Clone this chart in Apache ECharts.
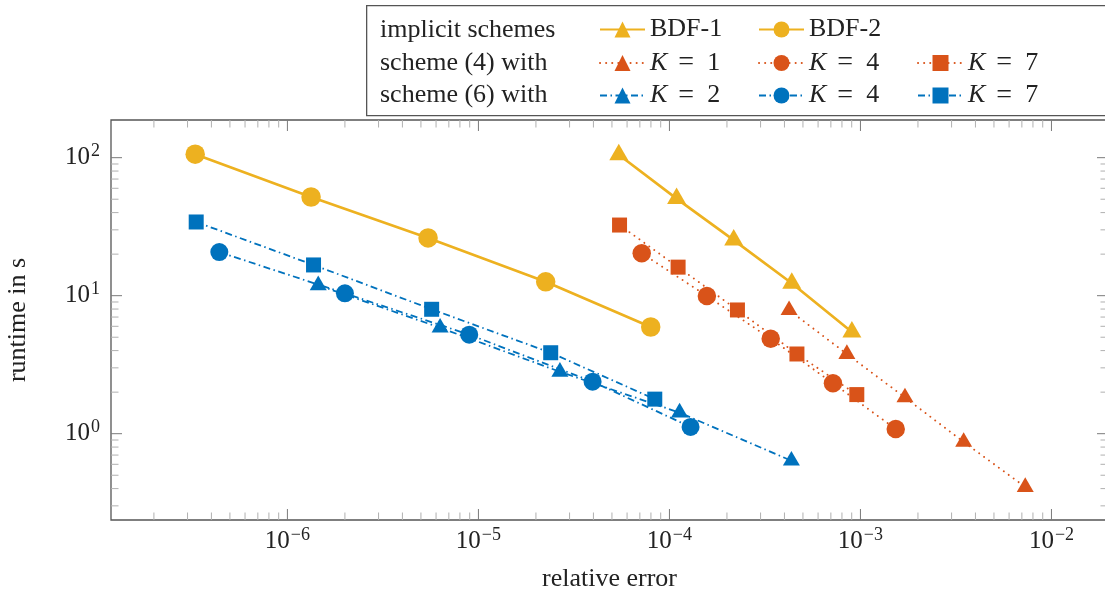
<!DOCTYPE html>
<html>
<head>
<meta charset="utf-8">
<script src="https://cdn.jsdelivr.net/npm/echarts@6/dist/echarts.min.js"></script>
<style>
html,body{margin:0;padding:0;background:#fff;}
#chart{width:1105px;height:593px;}
</style>
</head>
<body>
<div id="chart"></div>
<script>
// ---- data ----
const xBDF1 = [5.43e-5, 1.09e-4, 2.17e-4, 4.37e-4, 9.02e-4];
const yBDF1 = [105, 50.5, 25.3, 12.3, 5.46];
const xBDF2 = [3.29e-7, 1.33e-6, 5.45e-6, 2.25e-5, 7.98e-5];
const yBDF2 = [106, 51.9, 26.2, 12.6, 5.93];
const xS4K1 = [4.23e-4, 8.49e-4, 1.71e-3, 3.47e-3, 7.29e-3];
const yS4K1 = [7.85, 3.78, 1.83, 0.871, 0.411];
const xS4K4 = [7.16e-5, 1.57e-4, 3.39e-4, 7.18e-4, 1.53e-3];
const yS4K4 = [20.3, 9.95, 4.88, 2.32, 1.08];
const xS4K7 = [5.48e-5, 1.11e-4, 2.27e-4, 4.65e-4, 9.57e-4];
const yS4K7 = [32.5, 16.1, 7.88, 3.78, 1.92];
const xS6K2 = [1.45e-6, 6.30e-6, 2.67e-5, 1.13e-4, 4.35e-4];
const yS6K2 = [11.9, 5.86, 2.81, 1.42, 0.637];
const xS6K4 = [4.40e-7, 2.00e-6, 8.95e-6, 3.96e-5, 1.29e-4];
const yS6K4 = [20.7, 10.4, 5.22, 2.38, 1.12];
const xS6K7 = [3.33e-7, 1.37e-6, 5.69e-6, 2.39e-5, 8.38e-5];
const yS6K7 = [34.2, 16.7, 7.97, 3.86, 1.78];

const xTickLabels = [1e-6, 1e-5, 1e-4, 1e-3, 1e-2];
const yTickLabels = [1, 10, 100];
const rowHeaders = ['implicit schemes', 'scheme (4) with', 'scheme (6) with'];

// ---- axis ranges ----
const X_MIN = Math.pow(10, -6.9236), X_MAX = Math.pow(10, -1.704);
const Y_MIN = Math.pow(10, -0.6254), Y_MAX = Math.pow(10, 2.273);

const FONT = 'Liberation Serif';
const YELLOW = '#EDB120', ORANGE = '#D95319', BLUE = '#0072BD';

function pairs(xs, ys) { return xs.map((x, i) => [x, ys[i]]); }
function minorTicks(lo, hi) {
  const out = [];
  for (let k = Math.floor(Math.log10(lo)); k <= Math.ceil(Math.log10(hi)); k++) {
    for (let m = 2; m <= 9; m++) {
      const v = m * Math.pow(10, k);
      if (v > lo && v < hi) out.push(v);
    }
  }
  return out;
}
const xMinor = minorTicks(X_MIN, X_MAX);
const yMinor = minorTicks(Y_MIN, Y_MAX);

function expLabel(v) {
  const e = Math.round(Math.log10(v));
  return '{b|10}{s|' + (e < 0 ? '\u2212' + (-e) : String(e)) + '}';
}
const labelRich = {
  b: { fontFamily: FONT, fontSize: 25, color: '#222' },
  s: { fontFamily: FONT, fontSize: 18, color: '#222', padding: [0, 0, 13, 1] }
};

function renderTicks(params, api) {
  const children = [];
  const bl = api.coord([X_MIN, Y_MIN]);
  const tr = api.coord([X_MAX, Y_MAX]);
  const left = bl[0], bottom = bl[1], right = tr[0], top = tr[1];
  function seg(x1, y1, x2, y2, color) {
    children.push({ type: 'line', shape: { x1, y1, x2, y2 }, style: { stroke: color, lineWidth: 1 } });
  }
  const MAJ = 11, MIN = 7.5, CMAJ = '#7a7a7a', CMIN = '#b0b0b0';
  xMinor.forEach(v => { const p = api.coord([v, Y_MIN])[0]; seg(p, bottom, p, bottom - MIN, CMIN); seg(p, top, p, top + MIN, CMIN); });
  xTickLabels.forEach(v => { const p = api.coord([v, Y_MIN])[0]; seg(p, bottom, p, bottom - MAJ, CMAJ); seg(p, top, p, top + MAJ, CMAJ); });
  yMinor.forEach(v => { const p = api.coord([X_MIN, v])[1]; seg(left, p, left + MIN, p, CMIN); seg(right, p, right - MIN, p, CMIN); });
  yTickLabels.forEach(v => { const p = api.coord([X_MIN, v])[1]; seg(left, p, left + MAJ, p, CMAJ); seg(right, p, right - MAJ, p, CMAJ); });
  return { type: 'group', children };
}

const nameMap = {
  'BDF-1': 'BDF-1', 'BDF-2': 'BDF-2',
  's4K1': '{k|K}{e|=}1', 's4K4': '{k|K}{e|=}4', 's4K7': '{k|K}{e|=}7',
  's6K2': '{k|K}{e|=}2', 's6K4': '{k|K}{e|=}4', 's6K7': '{k|K}{e|=}7'
};
const legendText = {
  fontFamily: FONT, fontSize: 26, color: '#222',
  rich: {
    k: { fontFamily: FONT, fontSize: 26, fontStyle: 'italic', color: '#222' },
    e: { fontFamily: FONT, fontSize: 28, color: '#222', padding: [0, 13, 0, 11] }
  }
};
const rowCenters = [28.5, 61, 93.5];
const colLefts = [599, 758, 917];
function mkLegend(name, col, row) {
  return {
    data: [name], left: colLefts[col], top: rowCenters[row] - 12,
    orient: 'horizontal', padding: 0, itemWidth: 45, itemHeight: 20,
    selectedMode: false, textStyle: legendText,
    formatter: n => nameMap[n]
  };
}

const dotted = { type: [0.1, 6], width: 1.9, cap: 'round' };
const dashdot = { type: [7, 3.5, 1.5, 3.5], width: 1.8 };

function lineSeries(name, xs, ys, color, ls, symbol, size, offset) {
  return {
    name, type: 'line', data: pairs(xs, ys), z: 3,
    symbol, symbolSize: size, symbolOffset: offset || [0, 0], showSymbol: true,
    itemStyle: { color }, lineStyle: Object.assign({ color }, ls),
    emphasis: { disabled: true }, animation: false
  };
}

const option = {
  animation: false,
  grid: { left: 111, right: -3, top: 120, bottom: 73, outerBoundsMode: 'none', containLabel: false, show: true, borderColor: '#555', borderWidth: 1.3, backgroundColor: 'transparent' },
  xAxis: {
    type: 'log', logBase: 10, min: X_MIN, max: X_MAX,
    name: 'relative error', nameLocation: 'middle', nameGap: 46,
    nameTextStyle: { fontFamily: FONT, fontSize: 26, color: '#222' },
    axisLine: { show: false }, axisTick: { show: false }, splitLine: { show: false }, minorTick: { show: false },
    axisLabel: { customValues: xTickLabels, formatter: expLabel, rich: labelRich, margin: 6, showMinLabel: true, showMaxLabel: true }
  },
  yAxis: {
    type: 'log', logBase: 10, min: Y_MIN, max: Y_MAX,
    name: 'runtime in s', nameLocation: 'middle', nameGap: 80, nameRotate: 90,
    nameTextStyle: { fontFamily: FONT, fontSize: 26, color: '#222' },
    axisLine: { show: false }, axisTick: { show: false }, splitLine: { show: false }, minorTick: { show: false },
    axisLabel: { customValues: yTickLabels, formatter: expLabel, rich: labelRich, margin: 11 }
  },
  legend: [
    mkLegend('BDF-1', 0, 0), mkLegend('BDF-2', 1, 0),
    mkLegend('s4K1', 0, 1), mkLegend('s4K4', 1, 1), mkLegend('s4K7', 2, 1),
    mkLegend('s6K2', 0, 2), mkLegend('s6K4', 1, 2), mkLegend('s6K7', 2, 2)
  ],
  graphic: [
    { type: 'rect', left: 366, top: 5, z: -1, shape: { width: 760, height: 110 }, style: { fill: '#fff', stroke: '#555', lineWidth: 1.3 } },
    ...rowHeaders.map((t, i) => ({
      type: 'text', left: 380, top: rowCenters[i] - 11, z: 10,
      style: { text: t, font: '26px "Liberation Serif"', fill: '#222' }
    }))
  ],
  series: [
    { type: 'custom', name: 'ticks', data: [[1e-5, 1]], renderItem: renderTicks, silent: true, z: 1, clip: false, animation: false },
    lineSeries('BDF-1', xBDF1, yBDF1, YELLOW, { width: 2.7 }, 'triangle', [19, 16.5], [0, -2.75]),
    lineSeries('BDF-2', xBDF2, yBDF2, YELLOW, { width: 2.7 }, 'circle', 19.5),
    lineSeries('s4K1', xS4K1, yS4K1, ORANGE, dotted, 'triangle', [17, 14.7], [0, -2.45]),
    lineSeries('s4K4', xS4K4, yS4K4, ORANGE, dotted, 'circle', 18.5),
    lineSeries('s4K7', xS4K7, yS4K7, ORANGE, dotted, 'rect', 15),
    lineSeries('s6K2', xS6K2, yS6K2, BLUE, dashdot, 'triangle', [17, 14.7], [0, -2.45]),
    lineSeries('s6K4', xS6K4, yS6K4, BLUE, dashdot, 'circle', 18),
    lineSeries('s6K7', xS6K7, yS6K7, BLUE, dashdot, 'rect', 15)
  ]
};
const chart = echarts.init(document.getElementById('chart'), null, { renderer: 'canvas' });
chart.setOption(option);
</script>
</body>
</html>
